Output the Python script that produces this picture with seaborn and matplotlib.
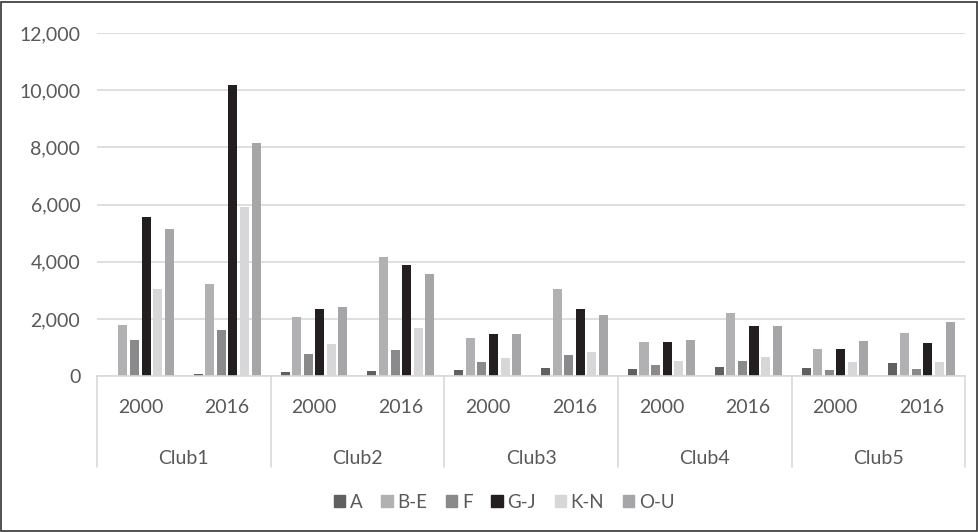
import matplotlib.pyplot as plt
import matplotlib.patches as mpatches
import numpy as np
import pandas as pd
import seaborn as sns

clubs = ["Club1", "Club2", "Club3", "Club4", "Club5"]
years = ["2000", "2016"]
series = ["A", "B-E", "F", "G-J", "K-N", "O-U"]

# one row per series, values in order Club1-2000, Club1-2016, Club2-2000, ...
val_a = [20, 80, 150, 180, 200, 280, 260, 320, 280, 470]
val_be = [1800, 3230, 2080, 4170, 1340, 3040, 1210, 2200, 940, 1520]
val_f = [1250, 1620, 760, 920, 480, 740, 400, 520, 210, 250]
val_gj = [5580, 10180, 2330, 3890, 1470, 2340, 1180, 1770, 940, 1160]
val_kn = [3050, 5900, 1130, 1680, 640, 860, 520, 680, 480, 500]
val_ou = [5130, 8150, 2400, 3570, 1480, 2130, 1270, 1770, 1240, 1890]

colors = ["#606062", "#b1b1b4", "#8a8a8d", "#231f20", "#d7d7d9", "#a6a6a9"]

groups = [f"{c}-{y}" for c in clubs for y in years]
rows = []
for name, vals in zip(series, [val_a, val_be, val_f, val_gj, val_kn, val_ou]):
    for g, v in zip(groups, vals):
        rows.append({"group": g, "series": name, "value": v})
df = pd.DataFrame(rows)

sns.set_style("white")
plt.rcParams["font.family"] = ["Lato", "DejaVu Sans"]
txt = "#595959"
grid = "#d9d9d9"
fs = 14

fig = plt.figure(figsize=(9.79, 5.32), dpi=100)
ax = fig.add_axes([0.099, 0.293, 0.887, 0.645])

sns.barplot(data=df, x="group", y="value", hue="series", order=groups,
            hue_order=series, palette=colors, width=0.8, gap=0.22,
            saturation=1, linewidth=0, legend=False, ax=ax)

ax.set_ylim(0, 12000)
ax.set_xlim(-0.5, len(groups) - 0.5)
ax.set_yticks(np.arange(0, 12001, 2000))
ax.set_yticklabels([f"{t:,}" for t in range(0, 12001, 2000)], color=txt, fontsize=fs)
ax.yaxis.grid(True, color=grid, linewidth=1.2)
ax.set_axisbelow(True)
ax.tick_params(axis="y", length=0, pad=12)
for s in ["top", "right", "left"]:
    ax.spines[s].set_visible(False)
ax.spines["bottom"].set_color(grid)
ax.spines["bottom"].set_linewidth(1.2)
ax.set_xlabel("")
ax.set_ylabel("")

# multi-level category axis
ax.set_xticks([])
trans = ax.get_xaxis_transform()
for i, g in enumerate(groups):
    ax.text(i, -0.09, g.split("-")[1], transform=trans, ha="center",
            va="center", color=txt, fontsize=fs)
for i, c in enumerate(clubs):
    ax.text(2 * i + 0.5, -0.239, c, transform=trans, ha="center", va="center",
            color=txt, fontsize=fs)
for k in range(len(clubs) + 1):
    ax.plot([2 * k - 0.5, 2 * k - 0.5], [0, -0.265], transform=trans,
            color=grid, linewidth=1.2, clip_on=False)

handles = [mpatches.Patch(color=c, label=s) for c, s in zip(colors, series)]
leg = fig.legend(handles=handles, loc="center", bbox_to_anchor=(0.515, 0.056),
                 ncol=6, frameon=False, fontsize=fs - 0.5, handlelength=0.6,
                 handleheight=0.6, handletextpad=0.25, columnspacing=1.0)
for t in leg.get_texts():
    t.set_color(txt)

fig.patches.append(mpatches.Rectangle((0.001, 0.002), 0.997, 0.995,
                                      transform=fig.transFigure, fill=False,
                                      edgecolor="#333333", linewidth=1.2))

fig.savefig("out.png", dpi=100)
